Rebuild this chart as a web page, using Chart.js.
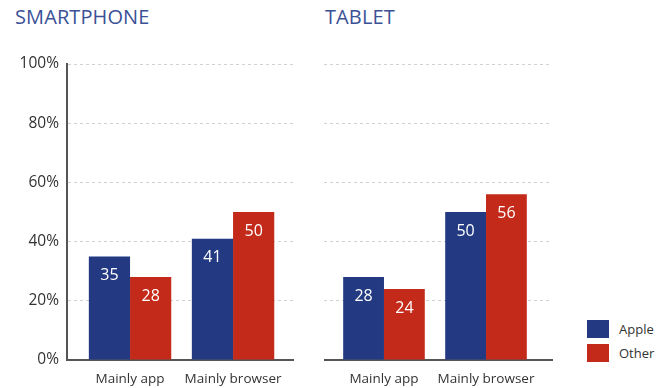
<!DOCTYPE html>
<html>
<head>
<meta charset="utf-8">
<script src="https://cdn.jsdelivr.net/npm/chart.js@4/dist/chart.umd.min.js"></script>
<style>
  body { margin: 0; background: #fff; width: 664px; height: 388px; position: relative; overflow: hidden; font-family: "Open Sans", sans-serif; }
  .title { position: absolute; top: 3px; font-size: 20px; color: #3b5196; letter-spacing: 0.1px; }
  canvas { position: absolute; top: 0; }
  #legend { position: absolute; left: 587px; top: 320px; font-size: 13px; color: #333; }
  .item { height: 18px; margin-bottom: 6px; display: flex; align-items: center; }
  .box { width: 22px; height: 18px; margin-right: 10px; }
</style>
</head>
<body>
<div class="title" style="left:15px">SMARTPHONE</div>
<div class="title" style="left:325px">TABLET</div>
<canvas id="phone" width="300" height="388" style="left:0"></canvas>
<canvas id="tablet" width="236" height="388" style="left:324px"></canvas>
<div id="legend"></div>
<script>
var categories = ['Mainly app', 'Mainly browser'];
var seriesNames = ['Apple', 'Other'];
var seriesColors = ['#233a83', '#c42a1a'];
var phoneApple = [35, 41];
var phoneOther = [28, 50];
var tabletApple = [28, 50];
var tabletOther = [24, 56];
var yTicks = [0, 20, 40, 60, 80, 100];

// white value labels just under the top of each bar
var valueLabels = {
    id: 'valueLabels',
    afterDatasetsDraw: function(chart) {
        var ctx = chart.ctx;
        ctx.save();
        ctx.fillStyle = '#fff';
        ctx.font = '16px "Open Sans"';
        ctx.textAlign = 'center';
        ctx.textBaseline = 'middle';
        chart.data.datasets.forEach(function(ds, i) {
            chart.getDatasetMeta(i).data.forEach(function(bar, j) {
                ctx.fillText(ds.data[j], bar.x, bar.y + 19);
            });
        });
        ctx.restore();
    }
};

// start/range: pulls the two groups in from the plot edges like the original
function makeChart(id, apple, other, showY, start, range) {
    return new Chart(document.getElementById(id), {
        type: 'bar',
        data: {
            labels: categories,
            datasets: [
                { label: seriesNames[0], data: apple, backgroundColor: seriesColors[0] },
                { label: seriesNames[1], data: other, backgroundColor: seriesColors[1] }
            ]
        },
        options: {
            responsive: false,
            animation: false,
            layout: { padding: { top: 64, right: showY ? 7 : 8, left: 0, bottom: 0 } },
            datasets: { bar: { categoryPercentage: 0.8, barPercentage: 1 } },
            plugins: { legend: { display: false }, tooltip: { enabled: false } },
            scales: {
                x: {
                    grid: { display: false },
                    border: { color: '#555', width: 2 },
                    ticks: { color: '#333', font: { family: 'Open Sans', size: 13.5 }, padding: 3 },
                    afterFit: function(s) { s.height = 28; },
                    afterUpdate: function(s) { s._startValue = start; s._valueRange = range; }
                },
                y: {
                    min: 0, max: 100,
                    afterBuildTicks: function(s) { s.ticks = yTicks.map(function(v) { return { value: v }; }); },
                    grid: { color: '#d0d0d0', drawTicks: false },
                    border: { display: showY, color: '#555', width: 2, dash: [3, 3] },
                    ticks: {
                        display: showY,
                        color: '#333',
                        padding: 8,
                        font: { family: 'Open Sans', size: 15.5 },
                        callback: function(v) { return v + '%'; }
                    },
                    afterFit: function(s) { s.width = showY ? 67 : 0; }
                }
            }
        },
        plugins: [valueLabels]
    });
}

makeChart('phone', phoneApple, phoneOther, true, -0.612, 2.194);
makeChart('tablet', tabletApple, tabletOther, false, -0.588, 2.235);

var legend = document.getElementById('legend');
seriesNames.forEach(function(n, i) {
    legend.innerHTML += '<div class="item"><div class="box" style="background:' + seriesColors[i] + '"></div>' + n + '</div>';
});
</script>
</body>
</html>
